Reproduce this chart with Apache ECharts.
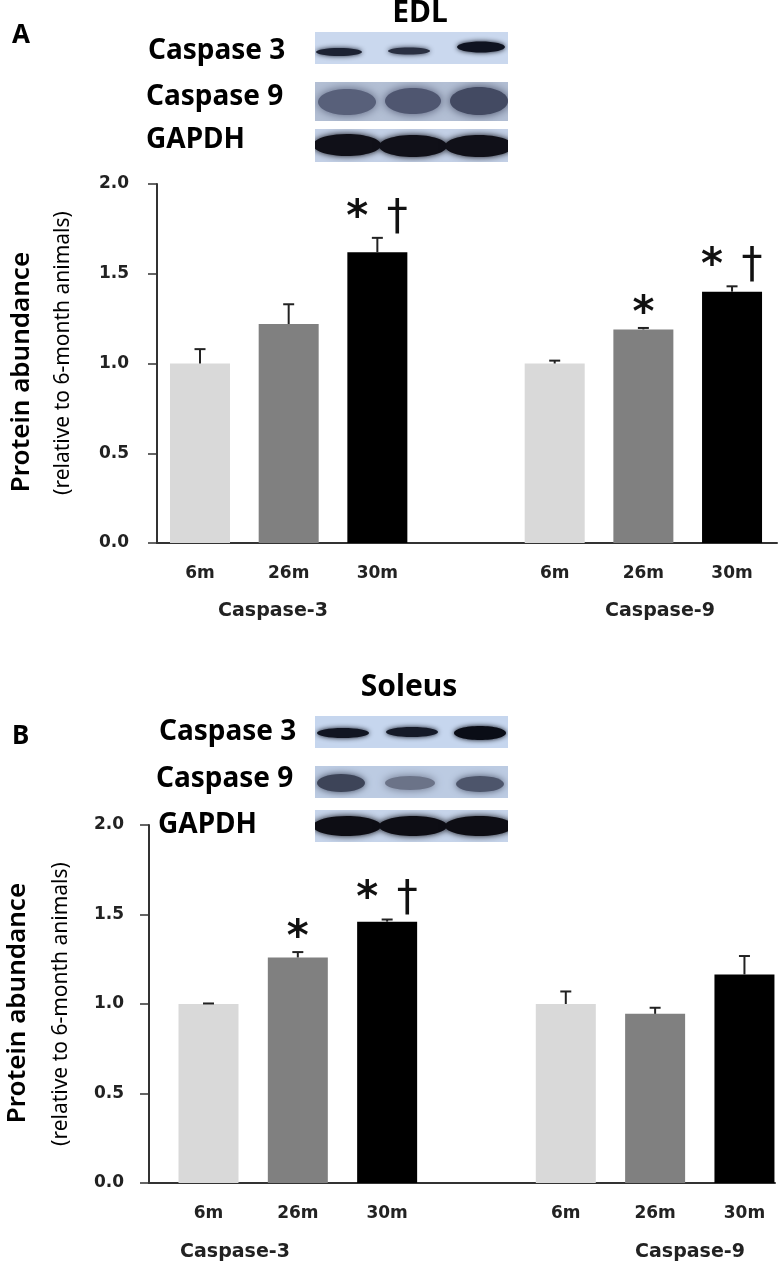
<!DOCTYPE html>
<html>
<head>
<meta charset="utf-8">
<script src="https://cdn.jsdelivr.net/npm/echarts@6/dist/echarts.min.js"></script>
<style>
html,body{margin:0;padding:0;background:#fff;}
#chart{width:780px;height:1263px;}
</style>
</head>
<body>
<div id="chart"></div>
<script>
// ---------- data ----------
const ages = ['6m', '26m', '30m'];
const groups = ['Caspase-3', 'Caspase-9'];
const yTicks = [0, 0.5, 1.0, 1.5, 2.0];

const edlCasp3 = [1.00, 1.22, 1.62];
const edlCasp3Err = [0.08, 0.11, 0.08];
const edlCasp3Sig = ['', '', '*†'];
const edlCasp9 = [1.00, 1.19, 1.40];
const edlCasp9Err = [0.016, 0.008, 0.03];
const edlCasp9Sig = ['', '*', '*†'];

const solCasp3 = [1.00, 1.26, 1.46];
const solCasp3Err = [0.003, 0.03, 0.012];
const solCasp3Sig = ['', '*', '*†'];
const solCasp9 = [1.00, 0.945, 1.165];
const solCasp9Err = [0.07, 0.034, 0.103];
const solCasp9Sig = ['', '', ''];

// ---------- styles ----------
const ageColors = ['#d9d9d9', '#808080', '#000000'];
const AX = '#333333';
const labelFont = 'DejaVu Sans';

function slot(g, i) { return g * 4 + i; }
function labelFor(v) {
  const r = Math.round(v);
  const i = r % 4;
  return i < 3 ? ages[i] : '';
}

function buildBars(c3, c9) {
  const out = [];
  [c3, c9].forEach((arr, g) => arr.forEach((v, i) => out.push({ value: [slot(g, i), v], itemStyle: { color: ageColors[i] } })));
  return out;
}
function buildErr(c3, c3e, c9, c9e) {
  const out = [];
  [[c3, c3e], [c9, c9e]].forEach((pair, g) => pair[0].forEach((v, i) => out.push([slot(g, i), v, pair[1][i]])));
  return out;
}
function buildSig(s3, s9) { return s3.concat(s9); }

function symText(ch, x, y, size, weight) {
  return { type: 'text', x: x, y: y, style: { text: ch, fontSize: size, fontWeight: weight || 'normal', fontFamily: 'DejaVu Sans', fill: '#111', align: 'center', verticalAlign: 'bottom', textAlign: 'center', textVerticalAlign: 'bottom' } };
}
function errRender(sigs) {
  return function (params, api) {
    const x = api.value(0), m = api.value(1), e = api.value(2);
    const p0 = api.coord([x, m]);
    const p1 = api.coord([x, m + e]);
    const children = [
      { type: 'line', shape: { x1: p0[0], y1: p0[1], x2: p1[0], y2: p1[1] }, style: { stroke: '#222', lineWidth: 2 } },
      { type: 'line', shape: { x1: p1[0] - 5.5, y1: p1[1], x2: p1[0] + 5.5, y2: p1[1] }, style: { stroke: '#222', lineWidth: 2 } }
    ];
    const s = sigs[params.dataIndex];
    if (s === '*') {
      children.push(symText('*', p1[0], p1[1] + 8, 42, 'bold'));
    } else if (s === '*†') {
      children.push(symText('*', p1[0] - 20, p1[1] + 2, 42, 'bold'));
      children.push(symText('†', p1[0] + 20, p1[1] + 1, 42));
    }
    return { type: 'group', children: children };
  };
}

function xAxisCfg(gi, min, max) {
  return {
    gridIndex: gi, type: 'value', min: min, max: max,
    splitLine: { show: false }, axisTick: { show: false },
    axisLine: { show: true, onZero: false, lineStyle: { color: AX, width: 2 } },
    axisLabel: { customValues: [0, 1, 2, 4, 5, 6], formatter: labelFor, margin: 22, fontFamily: labelFont, fontWeight: 'bold', fontSize: 17, color: '#222' }
  };
}
function yAxisCfg(gi, margin) {
  return {
    gridIndex: gi, type: 'value', min: yTicks[0], max: yTicks[yTicks.length - 1], interval: yTicks[1] - yTicks[0],
    splitLine: { show: false },
    axisLine: { show: true, onZero: false, lineStyle: { color: AX, width: 2 } },
    axisTick: { show: true, length: 9, lineStyle: { color: AX, width: 1.5 } },
    axisLabel: { formatter: v => v.toFixed(1), margin: margin, fontFamily: labelFont, fontWeight: 'bold', fontSize: 17, color: '#222' }
  };
}

// ---------- blot / text graphics ----------
function T(text, x, y, size, opts) {
  opts = opts || {};
  return {
    type: 'text', x: x, y: y, rotation: opts.rot || 0, z: 10,
    style: {
      text: text, fontSize: size, fontWeight: opts.weight || 'bold', fontFamily: opts.family || 'Noto Sans',
      fill: opts.fill || '#000', align: opts.align || 'left', verticalAlign: opts.va || 'middle',
      textAlign: opts.align || 'left', textVerticalAlign: opts.va || 'middle'
    }
  };
}
function strip(x, y, w, h, bg) {
  return { type: 'rect', shape: { x: x, y: y, width: w, height: h }, style: { fill: bg }, z: 1 };
}
function band(cx, cy, rx, ry, col, blur) {
  return { type: 'ellipse', shape: { cx: cx, cy: cy, rx: rx, ry: ry }, style: { fill: col, shadowBlur: blur, shadowColor: col }, z: 2 };
}
function clipGroup(x, y, w, h, children) {
  return { type: 'group', children: children, clipPath: { type: 'rect', shape: { x: x, y: y, width: w, height: h } } };
}

const graphics = [];
// Panel A
graphics.push(T('A', 12, 36, 26));
graphics.push(T('EDL', 420, 13, 30, { align: 'center' }));
graphics.push(T('Caspase 3', 148, 51, 28));
graphics.push(T('Caspase 9', 146, 97, 28));
graphics.push(T('GAPDH', 146, 140, 28));
graphics.push(strip(315, 32, 193, 32, '#cad8ee'));
graphics.push(clipGroup(315, 32, 193, 32, [
  band(339, 52, 23, 4, '#1c2233', 5), band(409, 51, 21, 3.5, '#2a3042', 5), band(481, 47, 24, 5.5, '#0f1320', 5)
]));
graphics.push(strip(315, 82, 193, 39, '#b3bfd4'));
graphics.push(clipGroup(315, 82, 193, 39, [
  band(347, 102, 29, 13, '#58607a', 10), band(413, 101, 28, 13, '#4f5670', 10), band(479, 101, 29, 14, '#434a62', 10)
]));
graphics.push(strip(315, 129, 193, 33, '#c3d0e6'));
graphics.push(clipGroup(315, 129, 193, 33, [
  band(347, 145, 34, 11, '#101018', 6), band(413, 146, 34, 11, '#101018', 6), band(479, 146, 34, 11, '#101018', 6)
]));
graphics.push(T('Protein abundance', 22, 372, 26, { rot: Math.PI / 2, align: 'center', weight: 600 }));
graphics.push(T('(relative to 6-month animals)', 63, 353, 21, { rot: Math.PI / 2, align: 'center', weight: 'normal' }));
graphics.push(T(groups[0], 273, 611, 19, { align: 'center', family: labelFont, fill: '#222' }));
graphics.push(T(groups[1], 660, 611, 19, { align: 'center', family: labelFont, fill: '#222' }));

// Panel B
graphics.push(T('B', 12, 737, 26));
graphics.push(T('Soleus', 409, 687, 30, { align: 'center' }));
graphics.push(T('Caspase 3', 159, 732, 28));
graphics.push(T('Caspase 9', 156, 779, 28));
graphics.push(T('GAPDH', 158, 825, 28));
graphics.push(strip(315, 716, 193, 32, '#c6d6ee'));
graphics.push(clipGroup(315, 716, 193, 32, [
  band(343, 733, 26, 5, '#111522', 5), band(412, 732, 26, 5, '#151a28', 5), band(480, 733, 26, 7, '#0a0d16', 5)
]));
graphics.push(strip(315, 766, 193, 32, '#bccbe2'));
graphics.push(clipGroup(315, 766, 193, 32, [
  band(341, 783, 24, 9, '#3d4458', 7), band(410, 783, 25, 7, '#6b7388', 8), band(480, 784, 24, 8, '#4d556b', 7)
]));
graphics.push(strip(315, 810, 193, 32, '#c6d4ea'));
graphics.push(clipGroup(315, 810, 193, 32, [
  band(347, 826, 34, 10, '#0d0d14', 6), band(413, 826, 34, 10, '#0d0d14', 6), band(479, 826, 34, 10, '#0d0d14', 6)
]));
graphics.push(T('Protein abundance', 18, 1003, 26, { rot: Math.PI / 2, align: 'center', weight: 600 }));
graphics.push(T('(relative to 6-month animals)', 61, 1004, 21, { rot: Math.PI / 2, align: 'center', weight: 'normal' }));
graphics.push(T(groups[0], 235, 1252, 19, { align: 'center', family: labelFont, fill: '#222' }));
graphics.push(T(groups[1], 690, 1252, 19, { align: 'center', family: labelFont, fill: '#222' }));

// ---------- chart ----------
const chart = echarts.init(document.getElementById('chart'), null, { renderer: 'canvas' });
chart.setOption({
  animation: false,
  backgroundColor: '#fff',
  grid: [
    { left: 157, top: 184, width: 620, height: 359 },
    { left: 149, top: 825, width: 626, height: 358 }
  ],
  xAxis: [xAxisCfg(0, -0.485, 6.507), xAxisCfg(1, -0.666, 6.342)],
  yAxis: [yAxisCfg(0, 28), yAxisCfg(1, 25)],
  graphic: graphics,
  series: [
    { type: 'bar', xAxisIndex: 0, yAxisIndex: 0, barWidth: 60, data: buildBars(edlCasp3, edlCasp9) },
    { type: 'custom', xAxisIndex: 0, yAxisIndex: 0, z: 5, renderItem: errRender(buildSig(edlCasp3Sig, edlCasp9Sig)),
      data: buildErr(edlCasp3, edlCasp3Err, edlCasp9, edlCasp9Err) },
    { type: 'bar', xAxisIndex: 1, yAxisIndex: 1, barWidth: 60, data: buildBars(solCasp3, solCasp9) },
    { type: 'custom', xAxisIndex: 1, yAxisIndex: 1, z: 5, renderItem: errRender(buildSig(solCasp3Sig, solCasp9Sig)),
      data: buildErr(solCasp3, solCasp3Err, solCasp9, solCasp9Err) }
  ]
});
</script>
</body>
</html>
